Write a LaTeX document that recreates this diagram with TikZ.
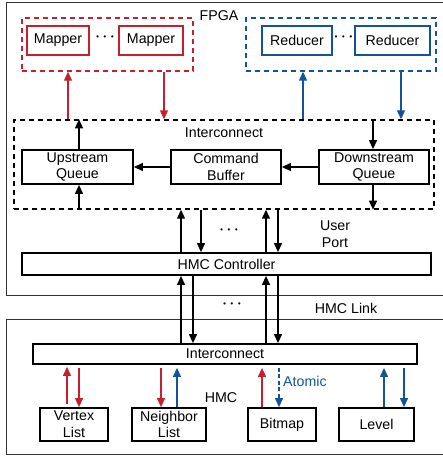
\documentclass[tikz,border=0pt]{standalone}
\usepackage{fontspec}
\setmainfont{Liberation Sans}
\usetikzlibrary{arrows.meta}
\definecolor{myred}{RGB}{198,32,48}
\definecolor{myblue}{RGB}{18,84,150}
\begin{document}
\begin{tikzpicture}[x=1pt,y=-1pt,
  font=\fontsize{14.2}{16.8}\selectfont,
  box/.style={draw=black, line width=1.8pt, inner sep=0pt, align=center},
  rbox/.style={draw=myred, line width=1.8pt, inner sep=0pt, align=center},
  bbox/.style={draw=myblue, line width=1.8pt, inner sep=0pt, align=center},
  grp/.style={line width=1.4pt, dash pattern=on 5pt off 4pt, inner sep=0pt},
  outer/.style={draw=black!80, line width=1.3pt, inner sep=0pt},
  arr/.style={line width=1.2pt, -{Triangle[length=9pt,width=8pt]}},
  lbl/.style={inner sep=0pt},
  dots/.style={inner sep=0pt, font=\fontsize{15}{16}\selectfont\boldmath}
]
\useasboundingbox (0,0) rectangle (442,457);
% outer boxes
\node[outer, minimum width=439pt, minimum height=293pt, anchor=north west] (fpga) at (6,2) {};
\node[outer, minimum width=439pt, minimum height=135pt, anchor=north west] (hmc) at (6,319) {};
\node[lbl] (fpgalbl) at (219,15.5) {FPGA};
% mapper group
\node[grp, draw=myred, minimum width=171pt, minimum height=53pt] (mapg) at (107.5,44.5) {};
\node[rbox, minimum width=62pt, minimum height=29pt] (mapL) at (58,40.5) {Mapper};
\node[rbox, minimum width=64pt, minimum height=29pt] (mapR) at (151,40.5) {Mapper};
\node[dots] (mdots) at (105,37.5) {$\cdots$};
% reducer group
\node[grp, draw=myblue, minimum width=190pt, minimum height=53pt] (redg) at (341,44.5) {};
\node[bbox, minimum width=70pt, minimum height=29pt] (redL) at (297,40.5) {Reducer};
\node[bbox, minimum width=75pt, minimum height=29pt] (redR) at (392.5,40.5) {Reducer};
\node[dots] (rdots) at (343.5,37.5) {$\cdots$};
% interconnect
\node[grp, draw=black, minimum width=420pt, minimum height=89pt] (ic) at (224,164.5) {};
\node[lbl] (iclbl) at (224,133) {Interconnect};
\node[box, minimum width=111pt, minimum height=34pt] (upq) at (77.5,167) {Upstream\\Queue};
\node[box, minimum width=110pt, minimum height=34pt] (cmd) at (226,167) {Command\\Buffer};
\node[box, minimum width=110pt, minimum height=34pt] (dnq) at (374,167) {Downstream\\Queue};
% controller
\node[box, minimum width=409pt, minimum height=22pt] (ctrl) at (226.5,264) {HMC Controller};
\node[dots] (udots) at (229,230) {$\cdots$};
\node[lbl, align=center] (uport) at (335,234.5) {User\\Port};
\node[dots] (ldots) at (232,304) {$\cdots$};
\node[lbl] (link) at (346,308) {HMC Link};
% HMC
\node[box, minimum width=384pt, minimum height=20pt] (hic) at (225,354) {Interconnect};
\node[lbl] (hmclbl) at (221,398) {HMC};
\node[box, minimum width=68pt, minimum height=33pt] (vtx) at (74,424.5) {Vertex\\List};
\node[box, minimum width=74pt, minimum height=33pt] (nbr) at (169,424.5) {Neighbor\\List};
\node[box, minimum width=68pt, minimum height=33pt] (bmp) at (282,424.5) {Bitmap};
\node[box, minimum width=75pt, minimum height=33pt] (lvl) at (376.5,424.5) {Level};
\node[lbl, text=myblue, anchor=west] (atomic) at (283,381) {Atomic};
% FPGA group arrows
\draw[arr, myred] (ic.north -| 68,0) -- (mapg.south -| 68,0);
\draw[arr, myred] (mapg.south -| 164,0) -- (ic.north -| 164,0);
\draw[arr, myblue] (ic.north -| 303,0) -- (redg.south -| 303,0);
\draw[arr, myblue] (redg.south -| 401,0) -- (ic.north -| 401,0);
% interconnect internals
\draw[arr] (upq.north -| 79,0) -- (ic.north -| 79,0);
\draw[arr] (ic.south -| 79,0) -- (upq.south -| 79,0);
\draw[arr] (cmd.west) -- (upq.east);
\draw[arr] (dnq.west) -- (cmd.east);
\draw[arr] (ic.north -| 373,0) -- (dnq.north -| 373,0);
\draw[arr] (dnq.south -| 373,0) -- (ic.south -| 373,0);
% interconnect <-> controller
\draw[arr] (ctrl.north -| 181,0) -- (ic.south -| 181,0);
\draw[arr] (ic.south -| 201,0) -- (ctrl.north -| 201,0);
\draw[arr] (ctrl.north -| 266,0) -- (ic.south -| 266,0);
\draw[arr] (ic.south -| 278,0) -- (ctrl.north -| 278,0);
% controller <-> HMC interconnect
\draw[arr] (hic.north -| 181,0) -- (ctrl.south -| 181,0);
\draw[arr] (ctrl.south -| 193,0) -- (hic.north -| 193,0);
\draw[arr] (hic.north -| 266,0) -- (ctrl.south -| 266,0);
\draw[arr] (ctrl.south -| 278,0) -- (hic.north -| 278,0);
% HMC internal arrows
\draw[arr, myred, shorten <=3pt, shorten >=2pt] (vtx.north -| 67,0) -- (hic.south -| 67,0);
\draw[arr, myred, shorten <=3pt] (hic.south -| 79,0) -- (vtx.north -| 79,0);
\draw[arr, myred, shorten <=3pt] (hic.south -| 161,0) -- (nbr.north -| 161,0);
\draw[arr, myblue, shorten >=3pt] (nbr.north -| 177,0) -- (hic.south -| 177,0);
\draw[arr, myred, shorten >=3pt] (bmp.north -| 262,0) -- (hic.south -| 262,0);
\draw[arr, myblue, dash pattern=on 4pt off 2.5pt, shorten <=3pt] (hic.south -| 279,0) -- (bmp.north -| 279,0);
\draw[arr, myblue, shorten >=3pt] (lvl.north -| 384,0) -- (hic.south -| 384,0);
\draw[arr, myblue, shorten <=3pt] (hic.south -| 404,0) -- (lvl.north -| 404,0);
\end{tikzpicture}
\end{document}
